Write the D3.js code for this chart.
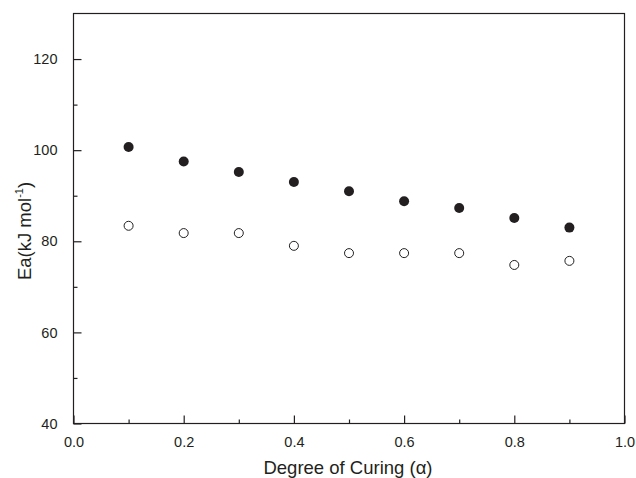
<!DOCTYPE html>
<html>
<head>
<meta charset="utf-8">
<script src="https://cdn.jsdelivr.net/npm/d3@7"></script>
<style>
  body { margin: 0; background: #fff; }
  text { font-family: "Liberation Sans", Arial, sans-serif; fill: #231f20; }
</style>
</head>
<body>
<svg id="chart" width="636" height="478"></svg>
<script>
// degree of curing vs activation energy
const alpha = [0.1, 0.2, 0.3, 0.4, 0.5, 0.6, 0.7, 0.8, 0.9];
const eaFilled = [100.7, 97.5, 95.2, 93.0, 91.0, 88.8, 87.3, 85.1, 83.0];
const eaOpen = [83.4, 81.8, 81.8, 79.0, 77.4, 77.4, 77.4, 74.8, 75.7];
const xTicks = [0, 0.2, 0.4, 0.6, 0.8, 1.0];
const yTicks = [40, 60, 80, 100, 120];

const ink = "#231f20";
const svg = d3.select("#chart");
const plotL = 73.5, plotR = 624.5, plotT = 13.5, plotB = 423.5;

const x = d3.scaleLinear().domain([0, 1]).range([plotL, plotR]);
const y = d3.scaleLinear().domain([40, 130]).range([plotB, plotT]);

// frame
svg.append("rect")
  .attr("x", plotL).attr("y", plotT)
  .attr("width", plotR - plotL).attr("height", plotB - plotT)
  .attr("fill", "none").attr("stroke", ink).attr("stroke-width", 1.2);

// bottom axis, ticks pointing in
const xAxis = d3.axisBottom(x).tickValues(xTicks).tickFormat(d3.format(".1f"))
  .tickSizeInner(-8).tickSizeOuter(0).tickPadding(13);
svg.append("g").attr("transform", `translate(0,${plotB})`).call(xAxis);
const xMinor = d3.axisBottom(x).tickValues([0.1, 0.3, 0.5, 0.7, 0.9])
  .tickFormat("").tickSizeInner(-4).tickSizeOuter(0);
svg.append("g").attr("transform", `translate(0,${plotB})`).call(xMinor);

// left axis
const yAxis = d3.axisLeft(y).tickValues(yTicks)
  .tickSizeInner(-8).tickSizeOuter(0).tickPadding(16);
svg.append("g").attr("transform", `translate(${plotL},0)`).call(yAxis);
const yMinor = d3.axisLeft(y).tickValues([50, 70, 90, 110])
  .tickFormat("").tickSizeInner(-4).tickSizeOuter(0);
svg.append("g").attr("transform", `translate(${plotL},0)`).call(yMinor);

svg.selectAll(".domain").remove();
svg.selectAll(".tick line").attr("stroke", ink).attr("stroke-width", 1.2);
svg.selectAll(".tick text").style("font-size", "14.5px").style("font-family", "Liberation Sans, Arial, sans-serif").attr("fill", ink);

// points
svg.append("g").selectAll("circle").data(alpha).join("circle")
  .attr("cx", d => x(d)).attr("cy", (d, i) => y(eaFilled[i]))
  .attr("r", 5).attr("fill", ink);
svg.append("g").selectAll("circle").data(alpha).join("circle")
  .attr("cx", d => x(d)).attr("cy", (d, i) => y(eaOpen[i]))
  .attr("r", 4.5).attr("fill", "none").attr("stroke", ink).attr("stroke-width", 1);

// axis titles
svg.append("text")
  .attr("x", (plotL + plotR) / 2 - 1).attr("y", 474)
  .attr("text-anchor", "middle").style("font-size", "18.5px")
  .text("Degree of Curing (α)");

const yl = svg.append("text")
  .attr("transform", `translate(31,231) rotate(-90)`)
  .attr("text-anchor", "middle").style("font-size", "18.5px");
yl.append("tspan").text("Ea(kJ mol");
yl.append("tspan").attr("dy", -8).style("font-size", "11px").text("-1");
yl.append("tspan").attr("dy", 8).text(")");
</script>
</body>
</html>
